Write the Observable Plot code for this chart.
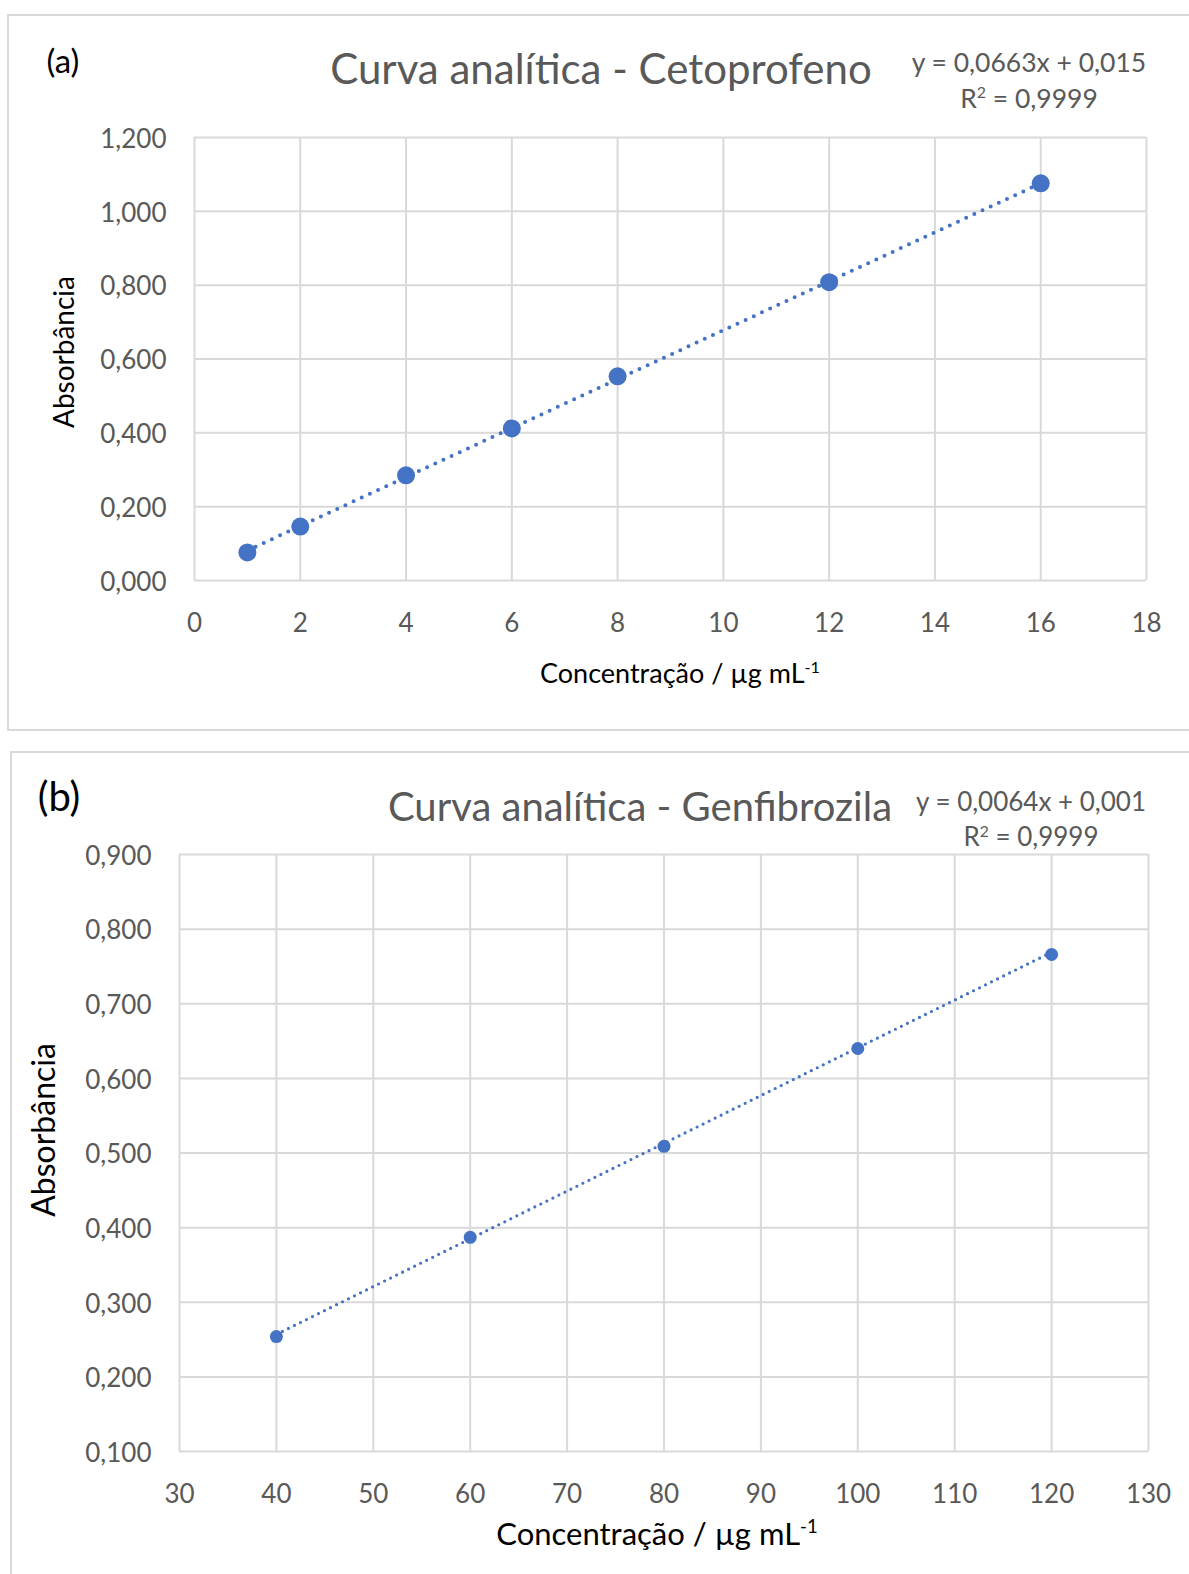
<!DOCTYPE html>
<html>
<head>
<meta charset="utf-8">
<script src="https://cdn.jsdelivr.net/npm/d3@7"></script>
<script src="https://cdn.jsdelivr.net/npm/@observablehq/plot@0.6"></script>
<style>
  html, body { margin: 0; padding: 0; background: #fff; }
  body { width: 1189px; height: 1574px; position: relative; overflow: hidden; font-family: Lato, "Open Sans", sans-serif; }
  .frame { position: absolute; border: 2px solid #d9d9d9; box-sizing: border-box; }
  .abs { position: absolute; white-space: nowrap; transform: translate(-50%, -50%); line-height: 1; }
  .chart { position: absolute; left: 0; }
  .title { color: #595959; }
  .eq { color: #595959; text-align: center; }
  .ylab { transform: translate(-50%, -50%) rotate(-90deg); }
  sup { font-size: 0.6em; vertical-align: 0.6em; line-height: 0; }
</style>
</head>
<body>
<div class="frame" style="left:7px; top:14px; width:1200px; height:717px;"></div>
<div class="frame" style="left:10px; top:751px; width:1200px; height:900px;"></div>

<div class="abs" style="left:63px; top:60px; font-size:33px;">(a)</div>
<div class="abs title" style="left:601px; top:68px; font-size:42px;">Curva analítica - Cetoprofeno</div>
<div class="abs eq" style="left:1029px; top:62px; font-size:26.5px;">y = 0,0663x + 0,015</div>
<div class="abs eq" style="left:1029px; top:98px; font-size:26.5px;">R<sup>2</sup> = 0,9999</div>
<div class="abs" style="left:680px; top:672px; font-size:27px;">Concentração / µg mL<sup>-1</sup></div>
<div class="abs ylab" style="left:63px; top:352px; font-size:28px;">Absorbância</div>

<div class="abs" style="left:59px; top:796px; font-size:40px;">(b)</div>
<div class="abs title" style="left:640px; top:806px; font-size:40px;">Curva analítica - Genfibrozila</div>
<div class="abs eq" style="left:1031px; top:801px; font-size:26px;">y = 0,0064x + 0,001</div>
<div class="abs eq" style="left:1031px; top:836px; font-size:26px;">R<sup>2</sup> = 0,9999</div>
<div class="abs" style="left:657px; top:1533px; font-size:31px;">Concentração / µg mL<sup>-1</sup></div>
<div class="abs ylab" style="left:43px; top:1130px; font-size:32px;">Absorbância</div>

<div id="chartA" class="chart" style="top:0px;"></div>
<div id="chartB" class="chart" style="top:740px;"></div>

<script>
// Cetoprofeno calibration standards
const cetoConc = [1, 2, 4, 6, 8, 12, 16];
const cetoAbs = [0.076, 0.146, 0.285, 0.412, 0.553, 0.808, 1.076];
const cetoSlope = 0.0663;
const cetoIntercept = 0.015;
const cetoXTicks = [0, 2, 4, 6, 8, 10, 12, 14, 16, 18];
const cetoYTicks = [0, 0.2, 0.4, 0.6, 0.8, 1.0, 1.2];

// Genfibrozila calibration standards
const genfConc = [40, 60, 80, 100, 120];
const genfAbs = [0.254, 0.387, 0.509, 0.640, 0.766];
const genfSlope = 0.0064;
const genfIntercept = 0.001;
const genfXTicks = [30, 40, 50, 60, 70, 80, 90, 100, 110, 120, 130];
const genfYTicks = [0.1, 0.2, 0.3, 0.4, 0.5, 0.6, 0.7, 0.8, 0.9];

const BLUE = "#4472C4";
const GRID = "#d9d9d9";
const decimalComma = d => d3.format(".3f")(d).replace(".", ",");

function calibrationChart({conc, abs, slope, intercept, xTicks, yTicks, height, margins, r, dotWidth, dotGap}) {
  const points = conc.map((c, i) => ({c, a: abs[i]}));
  const ends = [conc[0], conc[conc.length - 1]];
  const trend = ends.map(c => ({c, a: slope * c + intercept}));
  return Plot.plot({
    width: 1189,
    height,
    ...margins,
    style: {fontFamily: "Lato, 'Open Sans', sans-serif", fontSize: "26px", color: "#595959", background: "transparent"},
    x: {domain: [xTicks[0], xTicks[xTicks.length - 1]], ticks: xTicks},
    y: {domain: [yTicks[0], yTicks[yTicks.length - 1]], ticks: yTicks},
    marks: [
      Plot.gridX(xTicks, {stroke: GRID, strokeOpacity: 1, strokeWidth: 2}),
      Plot.gridY(yTicks, {stroke: GRID, strokeOpacity: 1, strokeWidth: 2}),
      Plot.axisX(xTicks, {tickSize: 0, tickPadding: 33, label: null, fill: "#595959"}),
      Plot.axisY(yTicks, {tickSize: 0, tickPadding: 28, dy: 2, label: null, tickFormat: decimalComma, fill: "#595959"}),
      Plot.line(trend, {x: "c", y: "a", stroke: BLUE, strokeWidth: dotWidth, strokeDasharray: `0 ${dotGap}`, strokeLinecap: "round"}),
      Plot.dot(points, {x: "c", y: "a", r, fill: BLUE, stroke: null})
    ]
  });
}

document.getElementById("chartA").append(calibrationChart({
  conc: cetoConc, abs: cetoAbs, slope: cetoSlope, intercept: cetoIntercept,
  xTicks: cetoXTicks, yTicks: cetoYTicks,
  height: 730,
  margins: {marginLeft: 194, marginRight: 43, marginTop: 137, marginBottom: 150},
  r: 9, dotWidth: 4, dotGap: 9
}));

document.getElementById("chartB").append(calibrationChart({
  conc: genfConc, abs: genfAbs, slope: genfSlope, intercept: genfIntercept,
  xTicks: genfXTicks, yTicks: genfYTicks,
  height: 834,
  margins: {marginLeft: 179, marginRight: 41, marginTop: 114, marginBottom: 123},
  r: 6.5, dotWidth: 3.2, dotGap: 6.7
}));
</script>
</body>
</html>
